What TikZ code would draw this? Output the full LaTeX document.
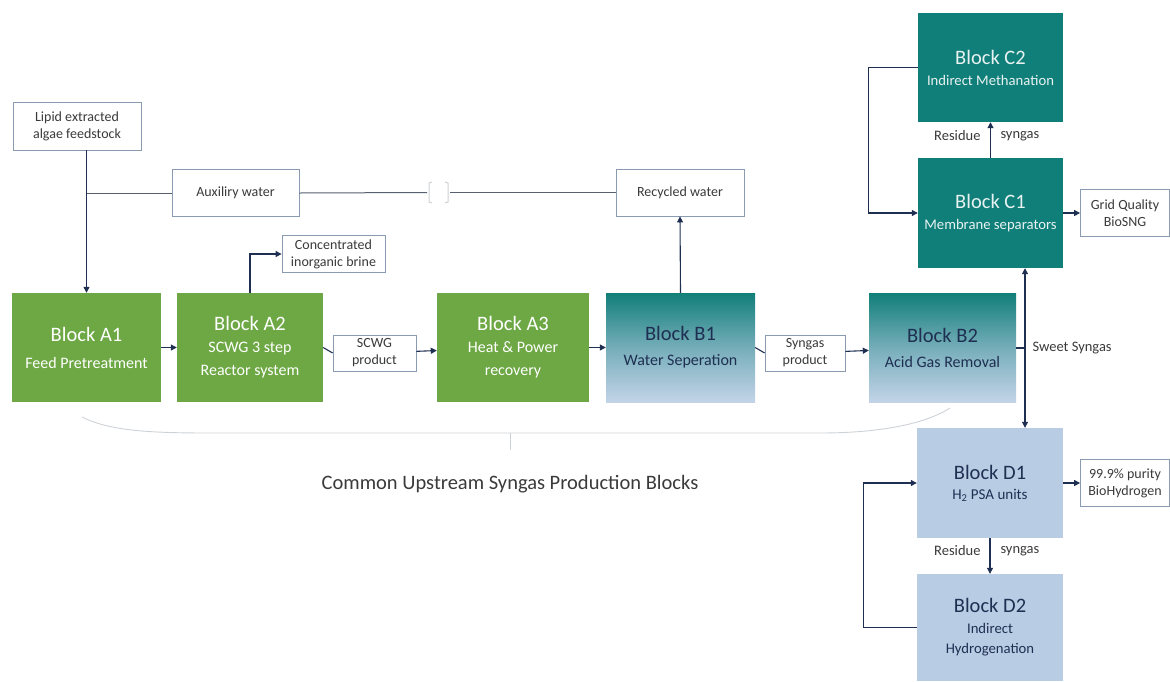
\documentclass[tikz,border=0pt]{standalone}
\usepackage{fontspec}
\setmainfont{Carlito}
\usetikzlibrary{arrows.meta}

\definecolor{blkgreen}{HTML}{6DA844}
\definecolor{blkteal}{HTML}{117F79}
\definecolor{blkblue}{HTML}{B8CCE4}
\definecolor{navy}{HTML}{1F2F52}
\definecolor{lblframe}{HTML}{8A9AB0}
\definecolor{lbltext}{HTML}{3A3A3A}
\definecolor{bracegray}{HTML}{CDD2D7}
\definecolor{pipegray}{HTML}{56606E}

\newcommand\blktitle[1]{{\fontsize{20.5}{22}\selectfont #1}}

\tikzset{
	blk/.style={inner sep=0pt, minimum height=109pt, align=center, font=\fontsize{16}{20}\selectfont},
	greenblk/.style={blk, fill=blkgreen, text=white},
	tealblk/.style={blk, fill=blkteal, text=white!90!blkteal},
	gradblk/.style={blk, top color=blkteal, bottom color=blkblue!85!white, middle color=blkblue!60!blkteal, text=navy},
	blueblk/.style={blk, fill=blkblue, text=navy},
	lbl/.style={draw=lblframe, line width=0.8pt, fill=white, inner sep=0pt, align=center, text=lbltext, font=\fontsize{14}{17}\selectfont},
	pipe/.style={draw=pipegray, line width=1pt},
	flow/.style={draw=navy, line width=1.1pt, -{Triangle[length=6pt,width=6pt]}},
	tick/.style={draw=navy, line width=1.1pt},
	side/.style={text=lbltext, font=\fontsize{14.5}{17}\selectfont}
}

\begin{document}
\begin{tikzpicture}[x=1pt,y=-1pt]
	\useasboundingbox (0,0) rectangle (1170,681);
		% main line of blocks
		\node[greenblk, minimum width=149pt] (A1) at (86.5,347.5) {\blktitle{Block A1}\\[7pt]Feed Pretreatment};
		\node[greenblk, minimum width=146pt] (A2) at (250,347.5) {\blktitle{Block A2}\\[2pt]SCWG 3 step\\[3pt]Reactor system};
		\node[greenblk, minimum width=152pt] (A3) at (513,347.5) {\blktitle{Block A3}\\[2pt]Heat \& Power\\[3pt]recovery};
		\node[gradblk, minimum width=149pt] (B1) at (680.5,347.5) {\blktitle{Block B1}\\[5pt]Water Seperation};
		\node[gradblk, minimum width=147pt] (B2) at (942.5,347.5) {\blktitle{Block B2}\\[5pt]Acid Gas Removal};
		\node[tealblk, minimum width=145pt] (C2) at (990.5,67.5) {\blktitle{Block C2}\\[1pt]{\fontsize{14.7}{20}\selectfont Indirect Methanation}};
		\node[tealblk, minimum width=145pt, minimum height=110pt] (C1) at (990.5,213) {\blktitle{Block C1}\\[1pt]{\fontsize{14.7}{20}\selectfont Membrane separators}};
		\node[blueblk, minimum width=146pt, minimum height=110pt] (D1) at (990,483) {\blktitle{Block D1}\\[0pt]{\fontsize{15}{20}\selectfont H\textsubscript{2} PSA units}};
		\node[blueblk, minimum width=146pt, minimum height=107pt] (D2) at (990,627.5) {\blktitle{Block D2}\\[1pt]{\fontsize{14.7}{19}\selectfont Indirect}\\{\fontsize{14.7}{19}\selectfont Hydrogenation}};

		% streams
		\node[lbl, minimum width=128pt, minimum height=48pt] (lipid) at (77,126) {Lipid extracted\\algae feedstock};
		\node[lbl, minimum width=127pt, minimum height=47pt] (aux) at (235.5,193) {Auxiliry water};
		\node[lbl, minimum width=128pt, minimum height=47pt] (recyc) at (680,192.5) {Recycled water};
		\node[lbl, minimum width=103pt, minimum height=37pt] (brine) at (333.5,254) {Concentrated\\inorganic brine};
		\node[lbl, minimum width=83pt, minimum height=36pt] (scwg) at (374.5,353) {SCWG\\product};
		\node[lbl, minimum width=80pt, minimum height=36pt] (syn) at (805,353) {Syngas\\product};
		\node[lbl, minimum width=89pt, minimum height=47pt] (grid) at (1125,213) {Grid Quality\\BioSNG};
		\node[lbl, minimum width=89pt, minimum height=47pt] (hyd) at (1125,483) {99.9\% purity\\BioHydrogen};

		\coordinate (jumpL) at (427,192.5);
		\coordinate (jumpR) at (450,192.5);
		\coordinate (sw) at (1025,348);

		\draw[flow] (A1.north |- lipid.south) -- (A1.north);
		\draw[pipe] (A1.north |- aux.west) -- (aux.west);
		\draw[pipe] (aux.east) -- (jumpL);
		\draw[pipe] (jumpR) -- (recyc.west);
		\draw[bracegray, line width=1pt] (432,182) -- (429,183) -- (429,202) -- (432,203);
		\draw[bracegray, line width=1pt] (445,182) -- (448,183) -- (448,202) -- (445,203);
		\draw[flow] (B1.north) -- (recyc.south);
		\draw[flow] (A2.north) |- (brine.west);

		\draw[flow] (A1) -- (A2);
		\draw[tick] (A2.east) -- (scwg.west);
		\draw[flow] (scwg) -- (A3);
		\draw[flow] (A3) -- (B1);
		\draw[tick] (B1.east) -- (syn.west);
		\draw[flow] (syn) -- (B2);

		\draw[tick] (B2.east |- sw) -- (sw);
		\draw[flow, {Triangle[length=6pt,width=6pt]}-{Triangle[length=6pt,width=6pt]}] (sw |- C1.south) -- (sw |- D1.north);
		\node[side, anchor=west] (sweet) at (1029,348) {Sweet Syngas};

		\draw[flow] (C1.north) -- (C2.south);
		\node[side, anchor=east] (resC) at (984,136) {Residue};
		\node[side, anchor=west] (synC) at (997,136) {syngas};
		\draw[flow] (C2.west) -- ++(-49,0) |- (C1.west);
		\draw[flow] (C1) -- (grid);

		\draw[flow] (D1.south) -- (D2.north);
		\node[side, anchor=east] (resD) at (984,551) {Residue};
		\node[side, anchor=west] (synD) at (997,551) {syngas};
		\draw[flow] (D2.west) -- ++(-53,0) |- (D1.west);
		\draw[flow] (D1) -- (hyd);

		% brace under the upstream blocks
		\draw[bracegray, line width=0.9pt] (82,417) .. controls (110,431) and (150,433) .. (210,433) -- (820,433) .. controls (880,433) and (925,424) .. (950,408);
		\draw[bracegray, line width=0.9pt] (510,433) -- (510,450);
		\node[text=lbltext, font=\fontsize{20.5}{22}\selectfont] (common) at (510,484) {Common Upstream Syngas Production Blocks};
	\end{tikzpicture}
\end{document}
